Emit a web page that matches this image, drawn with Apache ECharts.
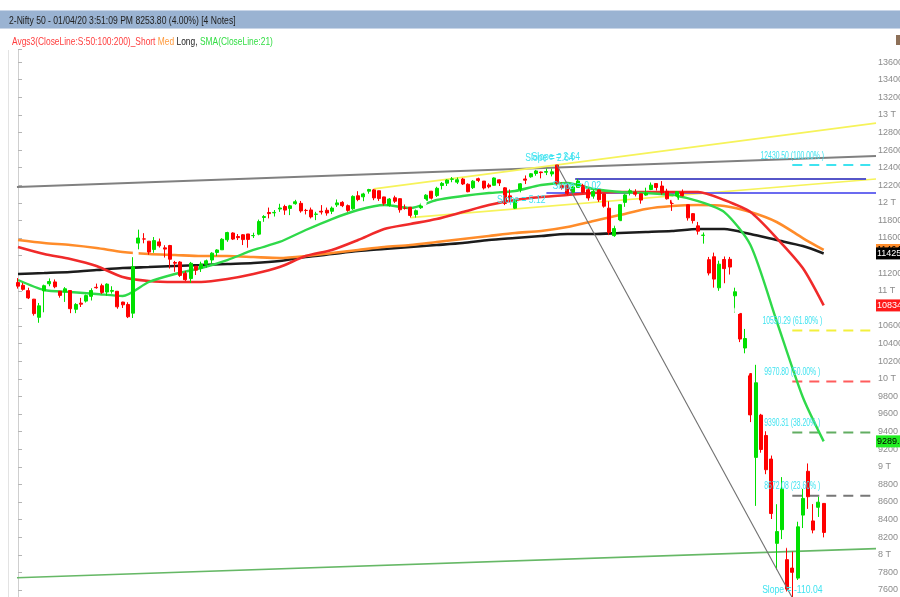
<!DOCTYPE html>
<html>
<head>
<meta charset="utf-8">
<script src="https://cdn.jsdelivr.net/npm/echarts@6/dist/echarts.min.js"></script>
<style>
html,body{margin:0;padding:0;background:#fff}
#chart{width:900px;height:597px}
</style>
</head>
<body>
<div id="chart"></div>
<script>
// daily candles, Nifty 50, 19 Aug 2019 .. 1 Apr 2020
var dates = ['19/08','20/08','21/08','22/08','23/08','26/08','27/08','28/08','29/08','30/08',
  '03/09','04/09','05/09','06/09','09/09','11/09','12/09','13/09','16/09','17/09','18/09','19/09','20/09','23/09','24/09','25/09','26/09','27/09','30/09',
  '01/10','03/10','04/10','07/10','09/10','10/10','11/10','14/10','15/10','16/10','17/10','18/10','22/10','23/10','24/10','25/10','27/10','29/10','30/10','31/10',
  '01/11','04/11','05/11','06/11','07/11','08/11','11/11','13/11','14/11','15/11','18/11','19/11','20/11','21/11','22/11','25/11','26/11','27/11','28/11','29/11',
  '02/12','03/12','04/12','05/12','06/12','09/12','10/12','11/12','12/12','13/12','16/12','17/12','18/12','19/12','20/12','23/12','24/12','26/12','27/12','30/12','31/12',
  '01/01','02/01','03/01','06/01','07/01','08/01','09/01','10/01','13/01','14/01','15/01','16/01','17/01','20/01','21/01','22/01','23/01','24/01','27/01','28/01','29/01','30/01','31/01',
  '01/02','03/02','04/02','05/02','06/02','07/02','10/02','11/02','12/02','13/02','14/02','17/02','18/02','19/02','20/02','24/02','25/02','26/02','27/02','28/02',
  '02/03','03/03','04/03','05/03','06/03','09/03','11/03','12/03','13/03','16/03','17/03','18/03','19/03','20/03','23/03','24/03','25/03','26/03','27/03','30/03','31/03',
  '01/04'];
var opens = [11094,11063,11002,10905,10699,11000,11080,11101,10996,10987,
  11003,10790,10860,10883,10937,11040,11058,10986,10995,10995,10872,10845,10746,11542,11590,11564,11469,11556,11488,
  11515,11322,11327,11199,11139,11280,11257,11301,11350,11436,11466,11580,11657,11617,11637,11646,11627,11644,11833,11890,
  11886,11929,11958,11936,11990,11994,11914,11919,11869,11904,11915,11904,11977,12005,11968,11932,12080,12068,12132,12147,
  12137,12067,11970,12057,12047,11939,11950,11867,11944,12027,12132,12082,12197,12223,12267,12235,12270,12211,12172,12274,12247,
  12202,12199,12261,12170,12079,11939,12153,12271,12296,12333,12350,12348,12328,12430,12195,12196,12119,12175,12198,12148,12076,12147,12100,
  11939,11627,11797,12005,12120,12120,12102,12088,12151,12219,12191,12131,12028,12037,12119,11978,11877,11738,11630,11354,
  11387,11034,11356,11358,10943,10743,10350,10060,9107,9588,9356,9088,8130,8286,7945,7849,7735,8451,8949,8385,8540,
  8584];
var closes = [11053,11017,10919,10741,10829,11058,11106,11046,10948,11023,
  10797,10845,10848,10946,11003,11035,10982,11076,11004,10818,10841,10705,11274,11600,11588,11440,11571,11512,11474,
  11359,11314,11175,11126,11313,11235,11305,11341,11428,11464,11586,11662,11588,11604,11582,11584,11628,11787,11844,11877,
  11891,11941,11917,11966,12012,11908,11913,11840,11872,11895,11884,11940,11999,11968,11914,12073,12037,12101,12151,12056,
  12048,11994,12043,12018,11921,11937,11857,11910,11971,12087,12053,12165,12221,12259,12272,12262,12214,12126,12246,12255,12168,
  12182,12282,12226,11993,12053,12025,12216,12257,12330,12362,12343,12355,12352,12224,12170,12107,12180,12248,12119,12055,12129,12035,11962,
  11662,11707,11979,12089,12137,12098,12031,12108,12201,12174,12113,12046,11993,12126,12081,11829,11798,11678,11633,11202,
  11133,11303,11252,11270,10989,10452,10458,9590,9955,9197,8967,8469,8264,8745,7610,7801,8318,8641,8660,8281,8598,
  8254];
var lows = [11025,11002,10906,10718,10637,10756,11052,11029,10922,10874,
  10746,10746,10816,10867,10890,11024,10964,10945,10968,10796,10805,10690,10691,11471,11540,11410,11432,11491,11378,
  11253,11216,11158,11112,11090,11180,11214,11263,11310,11394,11464,11557,11577,11577,11520,11490,11600,11631,11784,11823,
  11844,11897,11863,11860,11978,11888,11868,11822,11803,11867,11854,11872,11953,11951,11898,11920,12018,12018,12104,12030,
  12021,11969,11956,11998,11888,11923,11833,11832,11931,12009,12038,12066,12152,12191,12234,12213,12202,12120,12157,12235,12151,
  12165,12195,12191,11974,12006,11929,12119,12213,12285,12308,12278,12315,12300,12193,12150,12087,12091,12175,12107,12025,12047,12010,11945,
  11633,11614,11783,11954,12084,12073,11990,12080,12144,12139,12092,12037,11908,12036,12071,11798,11765,11639,11536,11175,
  11036,11000,11086,11185,10751,10417,10290,9508,8556,9160,8916,8407,7832,8178,7583,7511,7714,8304,8522,8244,8430,
  8198];
var highs = [11145,11090,11035,10908,10862,11070,11141,11129,10996,11042,
  11003,10860,10920,10957,11029,11082,11081,11085,11052,10996,10876,10870,11382,11695,11655,11564,11611,11594,11518,
  11522,11340,11337,11226,11328,11280,11331,11355,11438,11473,11598,11671,11665,11645,11645,11646,11660,11809,11860,11946,
  11918,11989,11978,11977,12034,12021,11931,11946,11898,11974,11946,11958,12038,12019,11981,12085,12132,12114,12159,12158,
  12138,12069,12055,12081,12050,11981,11953,11924,12000,12098,12135,12182,12236,12268,12293,12287,12283,12221,12258,12286,12247,
  12222,12289,12265,12179,12152,12044,12225,12311,12337,12374,12354,12389,12389,12430.5,12230,12225,12189,12272,12216,12163,12150,12150,12103,
  12017,11749,11986,12098,12160,12154,12103,12172,12231,12225,12247,12160,12030,12134,12152,11979,11884,11783,11663,11385,
  11434,11342,11390,11385,11036,10752,10567,10066,10159,9602,9404,9128,8575,8883,8083,8036,8376,8749,9038,8576,8660,
  8588];

// moving averages (every 5th bar + last bar)
var maIdx = [0,5,10,15,20,25,30,35,40,45,50,55,60,65,70,75,80,85,90,95,100,105,110,115,120,125,130,135,140,145,150,154];
var sma21 = [11123,11009,10986,10964,10941,11100,11191,11259,11350,11464,11555,11691,11816,11918,11975,11941,12032,12077,12111,12134,12202,12225,12157,12123,12111,12089,12020,11895,11520,10657,9793,9289.2];
var avgShort = [11498,11418,11361,11282,11157,11111,11100,11100,11134,11191,11270,11395,11464,11577,11702,11759,11816,11895,11975,12032,12066,12089,12111,12123,12123,12123,12123,12032,11895,11600,11259,10834];
var avgMed = [11577,11543,11520,11486,11441,11418,11407,11395,11395,11384,11373,11395,11430,11464,11498,11520,11555,11589,11623,11657,11680,11725,11793,11861,11930,11964,11975,11964,11895,11782,11600,11464];
var avgLong = [11191,11202,11214,11236,11259,11270,11282,11293,11305,11316,11339,11384,11418,11452,11475,11498,11520,11543,11577,11600,11623,11645,11645,11657,11668,11680,11702,11702,11645,11577,11509,11425];

// drawn trend lines: [barIndex, price]
var lineGreyTop = [[-0.2, 12180], [164, 12532]];
var lineYellowUp = [[68, 12158], [164, 12906]];
var lineYellowLow = [[75, 11832], [164, 12270]];
var lineBlueUp = [[106.5, 12270], [162.1, 12270]];
var lineBlueLow = [[101, 12111], [164, 12111]];
var lineFall = [[103, 12430.5], [148, 7511]];
var lineGreenLow = [[-0.2, 7740], [164, 8070]];

// fibonacci retracement
var fibStart = 148;
var fibLevels = [12430.50, 10550.29, 9970.80, 9390.31, 8672.08];
var fibPct = ['100.00%', '61.80%', '50.00%', '38.20%', '23.60%'];
var fibColors = ['#3fe3f0', '#f3f03c', '#ff5c5c', '#62ad62', '#777777'];

// gaps (bar index between the two candles, gap top, gap bottom)
var gapIdx = [22.5, 77.5, 114.5, 125.5, 131.5, 136.5, 137.5, 139.5, 146.5];
var gapHi = [11471, 12009, 11783, 12036, 11536, 11185, 10800, 10290, 8178];
var gapLo = [11382, 12000, 11749, 12030, 11385, 11036, 10760, 10066, 8083];
var gapUp = [true, true, true, true, false, false, false, false, false];

// slope notes
var slopeText = ['Slope = 2.64', 'Slope = 2.64', 'Slope = 5.12', 'Slope = 0.02', 'Slope = -110.04'];
var slopeIdx = [101.6, 102.8, 96.2, 106.8, 148];
var slopeVal = [12505, 12520, 12032, 12190, 7600];

var lastShort = 10834, lastMed = 11464, lastLong = 11425, lastSma = 9289.2;

var Y_MIN = 7400, Y_MAX = 13740, X_MAX = 164;
var GRID_TOP = 49.7, GRID_H = 557.9;

var myChart = echarts.init(document.getElementById('chart'));

function pairs(idx, vals) {
    return idx.map(function (x, k) { return [x, vals[k]]; });
}
function trend(name, data, color, width, z) {
    return {
        name: name, type: 'line', data: data, symbol: 'none', silent: true,
        lineStyle: { color: color, width: width }, z: z || 3
    };
}
var labelFont = 'Liberation Sans, Arial, sans-serif';
function axisTag(value, bg, fg) {
    return {
        silent: true, symbol: 'none', animation: false,
        lineStyle: { color: 'rgba(0,0,0,0)', width: 0 },
        label: {
            show: true, position: 'end', distance: 0,
            formatter: String(value), backgroundColor: bg, color: fg,
            fontSize: 9, fontFamily: labelFont,
            padding: [2, 1, 1, 1]
        },
        data: [{ yAxis: value }]
    };
}

var candleData = dates.map(function (d, i) {
    return [i, opens[i], closes[i], lows[i], highs[i]];
});

var pxPerUnit = GRID_H / (Y_MAX - Y_MIN);
var gapData = gapIdx.map(function (x, k) {
    return {
        value: [x, (gapHi[k] + gapLo[k]) / 2],
        symbolSize: [4.5, Math.max(5, (gapHi[k] - gapLo[k]) * pxPerUnit + 2)],
        itemStyle: { borderColor: gapUp[k] ? '#4fe6f2' : '#f1ef3a' }
    };
});

var fibSeries = fibLevels.map(function (lv, k) {
    return {
        type: 'line', silent: true, symbol: 'none', z: 3,
        data: [[fibStart, lv], [X_MAX, lv]],
        lineStyle: { color: fibColors[k], width: 2, type: [10, 7] }
    };
});

var graphics = [
    { type: 'rect', shape: { x: 0, y: 10, width: 900, height: 19 }, style: { fill: '#9ab3d2' }, silent: true },
    { type: 'line', shape: { x1: 0, y1: 10.5, x2: 900, y2: 10.5 }, style: { stroke: '#c9d6e8', lineWidth: 1 }, silent: true },
    { type: 'line', shape: { x1: 0, y1: 28.5, x2: 900, y2: 28.5 }, style: { stroke: '#c9d6e8', lineWidth: 1 }, silent: true },
    {
        type: 'text', x: 9, y: 20.5, scaleX: 0.78, silent: true,
        style: { text: '2-Nifty 50 - 01/04/20 3:51:09 PM 8253.80 (4.00%) [4 Notes]', fill: '#222', font: '11px Liberation Sans, Arial, sans-serif', verticalAlign: 'middle' }
    },
    {
        type: 'text', x: 12, y: 41.5, scaleX: 0.765, silent: true,
        style: {
            text: '{r|Avgs3(CloseLine:S:50:100:200)_Short} {o|Med} {k|Long,} {g|SMA(CloseLine:21)}',
            font: '11px Liberation Sans, Arial, sans-serif', verticalAlign: 'middle',
            rich: {
                r: { fill: '#ff3d3d', font: '11px Liberation Sans, Arial, sans-serif' },
                o: { fill: '#ff9a3c', font: '11px Liberation Sans, Arial, sans-serif' },
                k: { fill: '#222222', font: '11px Liberation Sans, Arial, sans-serif' },
                g: { fill: '#33dd44', font: '11px Liberation Sans, Arial, sans-serif' }
            }
        }
    },
    { type: 'line', shape: { x1: 8.5, y1: 50, x2: 8.5, y2: 597 }, style: { stroke: '#e3e3e3', lineWidth: 1 }, silent: true },
    { type: 'rect', shape: { x: 896, y: 35, width: 4, height: 10 }, style: { fill: '#8d7058' }, silent: true }
];

var option = {
    animation: false,
    backgroundColor: '#ffffff',
    grid: { left: 15.4, right: 24, top: GRID_TOP, height: GRID_H, containLabel: false, outerBoundsMode: 'none' },
    xAxis: {
        type: 'value', min: -0.5, max: X_MAX, show: false
    },
    yAxis: {
        type: 'value', position: 'right', min: Y_MIN, max: Y_MAX, interval: 200,
        splitLine: { show: false },
        axisLine: { show: true, lineStyle: { color: '#cfcfcf' } },
        axisTick: { show: true, length: 4, lineStyle: { color: '#b5b5b5' } },
        axisLabel: {
            color: '#8c8c8c', fontSize: 9, margin: 2, fontFamily: labelFont,
            formatter: function (v) {
                if (v % 200 !== 0) return '';
                return v % 1000 === 0 ? (v / 1000) + ' T' : String(v);
            }
        }
    },
    graphic: graphics,
    series: [
        trend('grey top', lineGreyTop, '#808080', 2),
        trend('yellow up', lineYellowUp, '#f6f35a', 1.6),
        trend('yellow low', lineYellowLow, '#f6f35a', 1.6),
        trend('blue up', lineBlueUp, '#5656c8', 2),
        trend('blue low', lineBlueLow, '#6b6bf0', 2),
        trend('green low', lineGreenLow, '#66b866', 1.6),
        {
            type: 'line', silent: true, symbol: 'none', data: [[X_MAX - 0.6, lastMed], [X_MAX, lastMed]],
            lineStyle: { color: 'rgba(0,0,0,0)', width: 0 }, z: 2,
            markLine: axisTag(lastMed, '#ff8c2a', '#000000')
        },
        {
            name: 'Long', type: 'line', data: pairs(maIdx, avgLong), symbol: 'none', smooth: 0.25, silent: true, z: 4,
            lineStyle: { color: '#1c1c1c', width: 2.6 },
            markLine: axisTag(lastLong, '#000000', '#ffffff')
        },
        {
            name: 'Med', type: 'line', data: pairs(maIdx, avgMed), symbol: 'none', smooth: 0.25, silent: true, z: 4,
            lineStyle: { color: '#ff8c2a', width: 2.6 }
        },
        {
            name: 'Short', type: 'line', data: pairs(maIdx, avgShort), symbol: 'none', smooth: 0.25, silent: true, z: 4,
            lineStyle: { color: '#f02a2a', width: 2.6 },
            markLine: axisTag(lastShort, '#ff1a1a', '#ffffff')
        },
        {
            name: 'SMA21', type: 'line', data: pairs(maIdx, sma21), symbol: 'none', smooth: 0.25, silent: true, z: 4,
            lineStyle: { color: '#2fd94a', width: 2.4 },
            markLine: axisTag(lastSma, '#22ee22', '#000000')
        },
        {
            name: 'Nifty', type: 'candlestick', data: candleData, z: 5, barWidth: 3.5,
            encode: { x: 0, y: [1, 2, 3, 4] },
            itemStyle: { color: '#00e000', color0: '#ff0000', borderColor: '#00e000', borderColor0: '#ff0000', borderWidth: 1 }
        },
        trend('fall', lineFall, '#707070', 1.1, 6)
    ].concat(fibSeries).concat([
        {
            type: 'scatter', silent: true, symbol: 'emptyCircle', z: 7,
            data: gapData,
            itemStyle: { color: '#ffffff', borderWidth: 1.5, opacity: 1 }
        }
    ])
};

myChart.setOption(option);

// cyan notes, placed through the chart's own scales and squeezed like the original
var notes = [];
fibLevels.forEach(function (lv, k) {
    var p = myChart.convertToPixel({ gridIndex: 0 }, [fibStart, lv]);
    notes.push({
        type: 'text', x: p[0], y: p[1] - 9, scaleX: 0.68, silent: true, z: 20,
        style: { text: lv.toFixed(2) + ' (' + fibPct[k] + ' )', fill: '#3fe3f0', font: '10px Liberation Sans, Arial, sans-serif', align: 'center', verticalAlign: 'middle' }
    });
});
slopeText.forEach(function (t, k) {
    var p = myChart.convertToPixel({ gridIndex: 0 }, [slopeIdx[k], slopeVal[k]]);
    notes.push({
        type: 'text', x: p[0], y: p[1], scaleX: 0.86, silent: true, z: 20,
        style: { text: t, fill: '#3fe3f0', font: '10px Liberation Sans, Arial, sans-serif', align: 'center', verticalAlign: 'middle' }
    });
});
myChart.setOption({ graphic: graphics.concat(notes) });
</script>
</body>
</html>
